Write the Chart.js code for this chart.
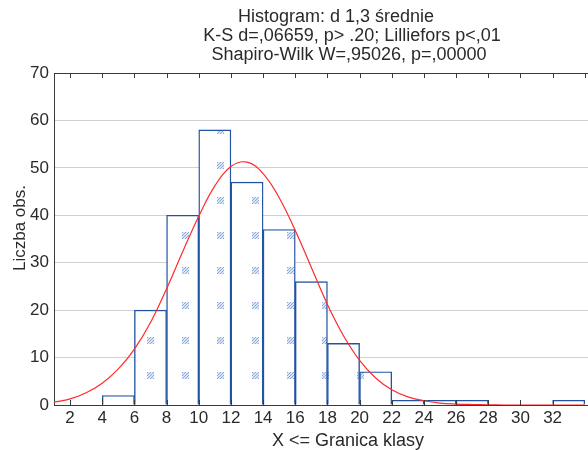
<!DOCTYPE html>
<html>
<head>
<meta charset="utf-8">
<script src="https://cdn.jsdelivr.net/npm/chart.js@4.4.1/dist/chart.umd.min.js"></script>
<style>
  html, body { margin: 0; padding: 0; background: #fff; }
</style>
</head>
<body>
<canvas id="histChart" width="588" height="450"></canvas>
<script>
// Texts
const titleLines = ['Histogram: d 1,3 średnie', 'K-S d=,06659, p> .20; Lilliefors p<,01', 'Shapiro-Wilk W=,95026, p=,00000'];
const xTitle = 'X <= Granica klasy';
const yTitle = 'Liczba obs.';

// Histogram classes (start of each 2-wide class) and counts
const binStarts = [2, 4, 6, 8, 10, 12, 14, 16, 18, 20, 22, 24, 26, 28, 30, 32];
const binCounts = [0, 2, 20, 40, 58, 47, 37, 26, 13, 7, 1, 1, 1, 0, 0, 1];

// Fitted normal curve
const curveX = [1, 2, 3, 4, 5, 6, 7, 8, 9, 10, 11, 12, 13, 14, 15, 16, 17, 18, 19, 20, 21, 22, 23, 24, 25, 26, 27, 28, 29, 30, 31, 32, 33, 34];
const curveY = [0.6, 1.3, 2.6, 4.6, 7.6, 11.8, 17.4, 24.5, 32.3, 39.8, 46.2, 50.3, 51.2, 48.8, 43.7, 36.8, 29.0, 21.2, 14.6, 9.4, 5.7, 3.2, 1.7, 0.9, 0.4, 0.2, 0.1, 0.05, 0, 0, 0, 0, 0, 0];

// Axis ticks
const xTicks = [2, 4, 6, 8, 10, 12, 14, 16, 18, 20, 22, 24, 26, 28, 30, 32, 34];
const xLabels = [2, 4, 6, 8, 10, 12, 14, 16, 18, 20, 22, 24, 26, 28, 30, 32];
const yTicks = [0, 10, 20, 30, 40, 50, 60, 70];

const FONT = '"Liberation Sans", Arial, sans-serif';
const AXIS_COLOR = '#3a3a3a';
const TEXT_COLOR = '#2a2a2a';

// small hatched marks spread over the bars
function makeHatch() {
    const c = document.createElement('canvas');
    c.width = 35;
    c.height = 35;
    const g = c.getContext('2d');
    g.fillStyle = '#ffffff';
    g.fillRect(0, 0, 35, 35);
    for (let i = 0; i < 7; i++) {
        for (let j = 0; j < 7; j++) {
            g.fillStyle = ((i + j) % 3 === 0) ? '#8aa8da' : '#dde6f5';
            g.fillRect(7 + i, 22 + j, 1, 1);
        }
    }
    return g.createPattern(c, 'repeat');
}

const barData = binStarts.map((s, i) => ({ x: s + 1, y: binCounts[i] }));
const curveData = curveX.map((x, i) => ({ x: x, y: curveY[i] }));

// frame, inner ticks and texts
const decorPlugin = {
    id: 'decor',
    afterDraw(chart) {
        const ctx = chart.ctx;
        const area = chart.chartArea;
        const xs = chart.scales.x;
        ctx.save();
        ctx.strokeStyle = AXIS_COLOR;
        ctx.lineWidth = 1;
        ctx.beginPath();
        ctx.moveTo(area.left, area.top + 0.5);
        ctx.lineTo(area.right, area.top + 0.5);
        xTicks.forEach(v => {
            const px = Math.round(xs.getPixelForValue(v)) + 0.5;
            ctx.moveTo(px, area.top);
            ctx.lineTo(px, area.top + 5);
            if (v <= 32) {
                ctx.moveTo(px, area.bottom);
                ctx.lineTo(px, area.bottom - 5);
            }
        });
        ctx.stroke();

        ctx.fillStyle = TEXT_COLOR;
        ctx.textAlign = 'center';
        ctx.textBaseline = 'alphabetic';
        ctx.font = '18px ' + FONT;
        const centers = [336, 352, 349];
        const baselines = [22, 41, 60];
        titleLines.forEach((t, i) => ctx.fillText(t, centers[i], baselines[i]));

        ctx.fillText(xTitle, 348, 446);

        ctx.translate(20, 228);
        ctx.rotate(-Math.PI / 2);
        ctx.textBaseline = 'middle';
        ctx.font = '17px ' + FONT;
        ctx.fillText(yTitle, 0, 0);
        ctx.restore();
    }
};

const ctx = document.getElementById('histChart').getContext('2d');

const myChart = new Chart(ctx, {
    type: 'bar',
    data: {
        datasets: [{
            type: 'line',
            label: 'Normal',
            data: curveData,
            borderColor: '#ff2b2b',
            borderWidth: 1.2,
            pointRadius: 0,
            fill: false,
            tension: 0.4,
            order: 0
        }, {
            label: 'Liczba obs.',
            data: barData,
            backgroundColor: makeHatch(),
            borderColor: '#2153a3',
            borderWidth: 1.4,
            barPercentage: 1,
            categoryPercentage: 1,
            order: 1
        }]
    },
    options: {
        responsive: false,
        animation: false,
        devicePixelRatio: 1,
        layout: { padding: { top: 73, left: 0, right: 0, bottom: 0 } },
        plugins: {
            legend: { display: false },
            tooltip: { enabled: false },
            title: { display: false }
        },
        scales: {
            x: {
                type: 'linear',
                min: 1,
                max: 34.2,
                offset: false,
                afterBuildTicks: scale => { scale.ticks = xTicks.map(v => ({ value: v })); },
                afterFit: scale => { scale.height = 45; },
                grid: { display: false, drawTicks: false },
                border: { display: true, color: AXIS_COLOR, width: 1 },
                ticks: {
                    autoSkip: false,
                    maxRotation: 0,
                    padding: 3,
                    color: TEXT_COLOR,
                    font: { family: FONT, size: 17 },
                    callback: v => xLabels.includes(v) ? String(v) : ''
                }
            },
            y: {
                min: 0,
                max: 70,
                afterBuildTicks: scale => { scale.ticks = yTicks.map(v => ({ value: v })); },
                afterFit: scale => { scale.width = 54; },
                grid: { color: '#cfcfcf', lineWidth: 1, drawTicks: false },
                border: { display: true, color: AXIS_COLOR, width: 1 },
                ticks: {
                    padding: 5,
                    color: TEXT_COLOR,
                    font: { family: FONT, size: 17 }
                }
            }
        }
    },
    plugins: [decorPlugin]
});
</script>
</body>
</html>
